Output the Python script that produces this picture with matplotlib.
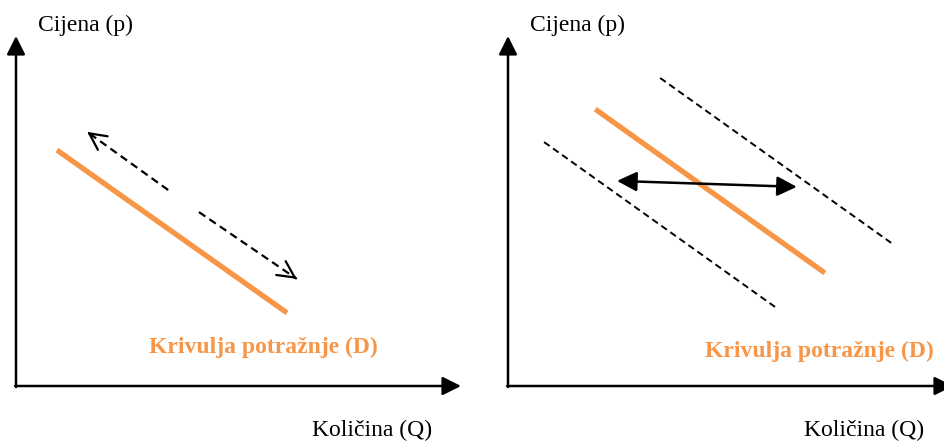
import matplotlib.pyplot as plt

plt.rcParams['font.family'] = ['Liberation Serif', 'DejaVu Serif']

# podaci (Q, p) u jedinicama osi 0-10
krivulja_lijevo = ([0.92, 6.09], [6.74, 2.09])
pomak_gore = ((3.42, 5.60), (1.60, 7.26))     # (od, do)
pomak_dolje = ((4.11, 4.97), (6.31, 3.06))

krivulja_desno = ([1.96, 7.12], [7.91, 3.23])
krivulja_desno_gore = ([3.42, 8.61], [8.80, 4.09])
krivulja_desno_dolje = ([0.81, 6.00], [6.97, 2.26])
pomak_krivulje = ((2.45, 5.86), (6.49, 5.69))

naslov_y = 'Cijena (p)'
naslov_x = 'Količina (Q)'
naziv_krivulje = 'Krivulja potražnje (D)'
naziv_pos = [(5.55, 1.09), (7.0, 1.0)]

orange = '#F79646'
crtkano = (0, (3.5, 2.2))

fig = plt.figure(figsize=(9.44, 4.41), dpi=100)
W, H = 944, 441
ax1 = fig.add_axes([16 / W, 55 / H, 445 / W, 350 / H])
ax2 = fig.add_axes([508 / W, 55 / H, 445 / W, 350 / H])

for i, ax in enumerate([ax1, ax2]):
    ax.set_xlim(0, 10)
    ax.set_ylim(0, 10)
    ax.axis('off')
    # osi sa strelicama
    ax.annotate('', xy=(0, 10), xytext=(0, -0.03),
                arrowprops=dict(arrowstyle='-|>', color='black', lw=1.8,
                                mutation_scale=28, shrinkA=0, shrinkB=0),
                annotation_clip=False)
    ax.annotate('', xy=(10, 0), xytext=(-0.02, 0),
                arrowprops=dict(arrowstyle='-|>', color='black', lw=1.8,
                                mutation_scale=28, shrinkA=0, shrinkB=0),
                annotation_clip=False)
    ax.text(1.56, 10.31, naslov_y, fontsize=17, ha='center', va='center')
    ax.text(8.0, -1.26, naslov_x, fontsize=17, ha='center', va='center',
            clip_on=False)
    ax.text(*naziv_pos[i], naziv_krivulje, fontsize=17, fontweight='bold',
            color=orange, ha='center', va='center', clip_on=False)

# lijevo: kretanje po krivulji
ax1.plot(*krivulja_lijevo, color=orange, lw=3.8, solid_capstyle='butt')
for od, do in [pomak_gore, pomak_dolje]:
    ax1.plot([od[0], do[0]], [od[1], do[1]], color='black', lw=1.6,
             linestyle=crtkano)
    vrh = (od[0] + 0.97 * (do[0] - od[0]), od[1] + 0.97 * (do[1] - od[1]))
    ax1.annotate('', xy=do, xytext=vrh,
                 arrowprops=dict(arrowstyle='->', color='black', lw=1.6,
                                 mutation_scale=30, shrinkA=0, shrinkB=0))

# desno: pomak krivulje
ax2.plot(*krivulja_desno, color=orange, lw=3.8, solid_capstyle='butt')
for q, p in [krivulja_desno_gore, krivulja_desno_dolje]:
    ax2.plot(q, p, color='black', lw=1.4, linestyle=crtkano)
ax2.annotate('', xy=pomak_krivulje[1], xytext=pomak_krivulje[0],
             arrowprops=dict(arrowstyle='<|-|>', color='black', lw=1.8,
                             mutation_scale=30, shrinkA=0, shrinkB=0))

fig.savefig('out.png', dpi=100)
